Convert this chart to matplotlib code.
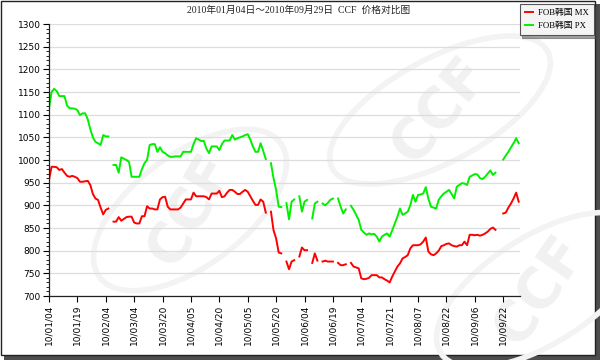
import matplotlib
matplotlib.use("Agg")
import matplotlib.pyplot as plt
from matplotlib.patches import Rectangle, Ellipse
import numpy as np

# Data (one value per trading day, None = no quote)
mx_values = [
    956, 985, 985, 984, 978, 980, 972, 965, 963, 965,
    963, 960, 952, 952, 953, 954, 945, 925, 915, 912,
    895, 880, 890, 893, None, 864, 864, 874, 866, 870,
    874, 875, 875, 862, 860, 860, 876, 876, 898, 893,
    893, 891, 891, 913, 918, 919, 897, 891, 891, 891,
    891, 895, 904, 913, 913, 913, 928, 920, 920, 920,
    920, 918, 913, 926, 926, 926, 932, 918, 920, 928,
    934, 934, 930, 925, 925, 930, 934, 930, 920, 910,
    901, 901, 913, 908, 884, None, 886, 845, 827, 796,
    794, None, 776, 759, 776, 779, None, 787, 807, 801,
    801, None, 773, 794, 778, None, 776, 778, 776, 776,
    776, None, 773, 768, 768, 770, None, 773, 765, 763,
    761, 739, 737, 738, 740, 746, 746, 746, 741, 741,
    737, 734, 730, 743, 754, 765, 772, 783, 786, 790,
    805, 812, 812, 812, 814, 820, 829, 798, 792, 790,
    794, 800, 810, 812, 815, 816, 812, 810, 809, 812,
    812, 820, 812, 835, 835, 834, 835, 833, 835, 838,
    842, 848, 851, 846, None, None, 882, 884, 895, 904,
    915, 928, 908,
]
px_values = [
    1114, 1150, 1157, 1152, 1141, 1141, 1141, 1120, 1114, 1114,
    1113, 1110, 1099, 1103, 1103, 1090, 1068, 1050, 1040, 1037,
    1033, 1055, 1052, 1052, None, 989, 989, 972, 1006, 1003,
    1000, 996, 963, 963, 963, 963, 980, 993, 1000, 1033,
    1035, 1035, 1018, 1028, 1018, 1015, 1010, 1007, 1007, 1008,
    1008, 1008, 1018, 1018, 1018, 1018, 1035, 1048, 1045, 1042,
    1042, 1025, 1015, 1030, 1030, 1030, 1022, 1035, 1043, 1043,
    1043, 1055, 1045, 1048, 1050, 1052, 1055, 1057, 1045, 1030,
    1018, 1018, 1037, 1020, 1002, None, 993, 960, 934, 897,
    896, None, 905, 869, 908, 913, None, 920, 886, 908,
    912, None, 871, 904, 908, None, 904, 900, 905, 912,
    915, None, 915, 897, 882, 891, None, 899, 890, 879,
    868, 846, 840, 835, 838, 836, 837, 831, 820, 831,
    835, 838, 831, 845, 860, 875, 893, 879, 882, 886,
    900, 923, 908, 923, 924, 926, 940, 915, 897, 895,
    893, 912, 920, 926, 930, 934, 925, 915, 941, 945,
    949, 948, 945, 963, 966, 969, 968, 960, 958, 963,
    970, 977, 967, 972, None, None, 1001, 1010, 1018, 1028,
    1037, 1048, 1037,
]
tick_labels = [
    "10/01/04", "10/01/19", "10/02/04", "10/03/04", "10/03/20", "10/04/05",
    "10/04/20", "10/05/05", "10/05/20", "10/06/04", "10/06/19", "10/07/04",
    "10/07/21", "10/08/07", "10/08/22", "10/09/06", "10/09/22",
]
series_names = ["FOB韩国 MX", "FOB韩国 PX"]
title_text = "2010年01月04日～2010年09月29日  CCF  价格对比图"

cjk_fonts = ["Liberation Serif", "Noto Sans CJK SC", "DejaVu Sans"]

mx = np.array([np.nan if v is None else v for v in mx_values], dtype=float)
px = np.array([np.nan if v is None else v for v in px_values], dtype=float)
idx = np.arange(len(mx))
tick_step = 11

fig = plt.figure(figsize=(6, 3.6), dpi=100)
fig.patch.set_facecolor("white")

# frame with drop shadow
fig.patches.append(Rectangle((4 / 600, 0), 596 / 600, 356 / 360,
                             transform=fig.transFigure, facecolor="#4d4d4d",
                             edgecolor="none", zorder=-10))
fig.patches.append(Rectangle((0.5 / 600, 5 / 360), 594.5 / 600, 354.5 / 360,
                             transform=fig.transFigure, facecolor="white",
                             edgecolor="#222222", linewidth=1.0, zorder=-9))

# faint watermarks
for (wx, wy, rot) in [(190, 210, 60), (440, 110, 50), (540, 290, 55)]:
    fig.text(wx / 600, 1 - wy / 360, "CCF", fontsize=40, fontweight="bold",
             color="#f1f1f1", rotation=rot, ha="center", va="center", zorder=-5)
    fig.patches.append(Ellipse((wx / 600, 1 - wy / 360), 140 / 600, 180 / 360,
                               angle=rot - 90, transform=fig.transFigure,
                               facecolor="none", edgecolor="#f3f3f3",
                               linewidth=4, zorder=-6))

ax = fig.add_axes([49 / 600, 1 - 296 / 360, 471 / 600, 272 / 360])
ax.patch.set_alpha(0)

ax.plot(idx, mx, color="#ff0000", linewidth=1.4, label=series_names[0])
ax.plot(idx, px, color="#00f000", linewidth=1.4, label=series_names[1])

ax.set_xlim(0, 182.5)
ax.set_ylim(700, 1300)
ax.set_yticks(np.arange(700, 1301, 50))
ax.set_yticks(np.arange(700, 1301, 10), minor=True)
ax.set_xticks(np.arange(len(tick_labels)) * tick_step)
ax.set_xticklabels(tick_labels, rotation=90, fontsize=6.5)
ax.tick_params(axis="y", labelsize=6.5, length=4, width=0.8, pad=2)
ax.tick_params(axis="y", which="minor", length=2, width=0.6)
ax.tick_params(axis="x", length=4, width=0.8, pad=2)

ax.grid(axis="y", color="#dddddd", linewidth=0.9)
ax.set_axisbelow(True)
for side in ["top", "right"]:
    ax.spines[side].set_visible(False)
for side in ["left", "bottom"]:
    ax.spines[side].set_linewidth(0.9)
    ax.spines[side].set_color("#222222")

fig.text(299 / 600, 1 - 10 / 360, title_text, ha="center", va="center",
         fontsize=7, family=cjk_fonts, color="#222222")

leg = fig.legend(loc="upper right", bbox_to_anchor=(594 / 600, 1 - 4 / 360),
                 prop={"family": cjk_fonts, "size": 6.3}, frameon=True,
                 fancybox=False, shadow=True, handlelength=0.9,
                 handletextpad=0.6, borderpad=0.6, labelspacing=0.5,
                 borderaxespad=0)
leg.get_frame().set_facecolor("#f4f4f4")
leg.get_frame().set_edgecolor("#555555")
leg.get_frame().set_linewidth(0.8)

plt.savefig("out.png", dpi=100)
